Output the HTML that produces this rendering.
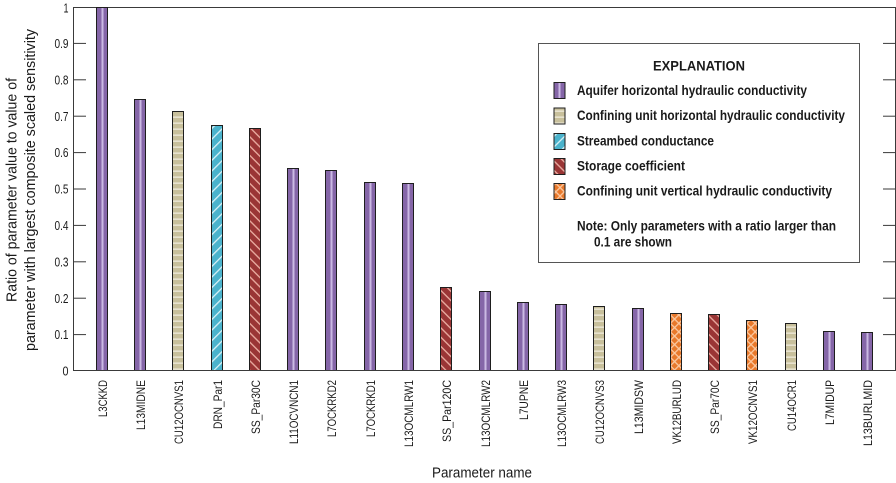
<!DOCTYPE html>
<html>
<head>
<meta charset="utf-8">
<style>
  html,body{margin:0;padding:0;background:#fff;}
  svg{display:block;}
  text{font-family:"Liberation Sans Narrow","Liberation Sans",sans-serif;fill:#1a1a1a;}
</style>
</head>
<body>
<svg width="896" height="483" viewBox="0 0 896 483" xmlns="http://www.w3.org/2000/svg">
  <defs>
    <pattern id="tan" patternUnits="userSpaceOnUse" width="12" height="6">
      <rect width="12" height="6" fill="#c8c09c"/>
      <rect y="2.5" width="12" height="1.3" fill="#efebdc"/>
    </pattern>
    <pattern id="blue" patternUnits="userSpaceOnUse" width="7.5" height="20" patternTransform="rotate(45)">
      <rect width="7.5" height="20" fill="#4bb3cc"/>
      <rect x="0" width="1.3" height="20" fill="#d9f1f6"/>
    </pattern>
    <pattern id="red" patternUnits="userSpaceOnUse" width="6.6" height="20" patternTransform="rotate(-45)">
      <rect width="6.6" height="20" fill="#9a3535"/>
      <rect x="0" width="1.4" height="20" fill="#e7a79c"/>
    </pattern>
    <pattern id="orange" patternUnits="userSpaceOnUse" width="6" height="6" patternTransform="rotate(45)">
      <rect width="6" height="6" fill="#e8782a"/>
      <rect x="0" width="1.3" height="6" fill="#fbc8a0"/>
      <rect y="0" width="6" height="1.3" fill="#fbc8a0"/>
    </pattern>
  </defs>

  <!-- plot frame -->
  <g stroke="#3a3a3a" stroke-width="1" fill="none">
    <line x1="73.5" y1="7.5" x2="895.5" y2="7.5"/>
    <line x1="73.5" y1="7" x2="73.5" y2="371"/>
    <line x1="895.5" y1="7" x2="895.5" y2="371"/>
  </g>

  <!-- ticks -->
  <g stroke="#3a3a3a" stroke-width="1">
    <line x1="74" y1="43.4" x2="86" y2="43.4"/><line x1="883" y1="43.4" x2="895" y2="43.4"/>
    <line x1="74" y1="79.8" x2="86" y2="79.8"/><line x1="883" y1="79.8" x2="895" y2="79.8"/>
    <line x1="74" y1="116.2" x2="86" y2="116.2"/><line x1="883" y1="116.2" x2="895" y2="116.2"/>
    <line x1="74" y1="152.6" x2="86" y2="152.6"/><line x1="883" y1="152.6" x2="895" y2="152.6"/>
    <line x1="74" y1="189" x2="86" y2="189"/><line x1="883" y1="189" x2="895" y2="189"/>
    <line x1="74" y1="225.4" x2="86" y2="225.4"/><line x1="883" y1="225.4" x2="895" y2="225.4"/>
    <line x1="74" y1="261.8" x2="86" y2="261.8"/><line x1="883" y1="261.8" x2="895" y2="261.8"/>
    <line x1="74" y1="298.2" x2="86" y2="298.2"/><line x1="883" y1="298.2" x2="895" y2="298.2"/>
    <line x1="74" y1="334.6" x2="86" y2="334.6"/><line x1="883" y1="334.6" x2="895" y2="334.6"/>
  </g>

  <!-- y tick labels -->
  <g font-size="13" text-anchor="end">
    <text x="68.5" y="12.5" textLength="5" lengthAdjust="spacingAndGlyphs">1</text>
    <text x="68.5" y="48" textLength="14" lengthAdjust="spacingAndGlyphs">0.9</text>
    <text x="68.5" y="84.4" textLength="14" lengthAdjust="spacingAndGlyphs">0.8</text>
    <text x="68.5" y="120.8" textLength="14" lengthAdjust="spacingAndGlyphs">0.7</text>
    <text x="68.5" y="157.2" textLength="14" lengthAdjust="spacingAndGlyphs">0.6</text>
    <text x="68.5" y="193.6" textLength="14" lengthAdjust="spacingAndGlyphs">0.5</text>
    <text x="68.5" y="230" textLength="14" lengthAdjust="spacingAndGlyphs">0.4</text>
    <text x="68.5" y="266.4" textLength="14" lengthAdjust="spacingAndGlyphs">0.3</text>
    <text x="68.5" y="302.8" textLength="14" lengthAdjust="spacingAndGlyphs">0.2</text>
    <text x="68.5" y="339.2" textLength="14" lengthAdjust="spacingAndGlyphs">0.1</text>
    <text x="68.5" y="375.6" textLength="6" lengthAdjust="spacingAndGlyphs">0</text>
  </g>

  <!-- y axis title -->
  <g font-size="15" text-anchor="middle">
    <text transform="translate(16.5,190) rotate(-90)" textLength="224" lengthAdjust="spacingAndGlyphs">Ratio of parameter value to value of</text>
    <text transform="translate(35,190) rotate(-90)" textLength="322" lengthAdjust="spacingAndGlyphs">parameter with largest composite scaled sensitivity</text>
  </g>

  <!-- bars -->
  <g stroke="#1e1e1e" stroke-width="1">
    <rect x="96.5" y="7.5" width="11" height="363" fill="#8566a8"/>
    <rect x="134.5" y="99.5" width="11" height="271" fill="#8566a8"/>
    <rect x="172.5" y="111.5" width="11" height="259" fill="url(#tan)"/>
    <rect x="211.5" y="125.5" width="11" height="245" fill="url(#blue)"/>
    <rect x="249.5" y="128.5" width="11" height="242" fill="url(#red)"/>
    <rect x="287.5" y="168.5" width="11" height="202" fill="#8566a8"/>
    <rect x="325.5" y="170.5" width="11" height="200" fill="#8566a8"/>
    <rect x="364.5" y="182.5" width="11" height="188" fill="#8566a8"/>
    <rect x="402.5" y="183.5" width="11" height="187" fill="#8566a8"/>
    <rect x="440.5" y="287.5" width="11" height="83" fill="url(#red)"/>
    <rect x="479.5" y="291.5" width="11" height="79" fill="#8566a8"/>
    <rect x="517.5" y="302.5" width="11" height="68" fill="#8566a8"/>
    <rect x="555.5" y="304.5" width="11" height="66" fill="#8566a8"/>
    <rect x="593.5" y="306.5" width="11" height="64" fill="url(#tan)"/>
    <rect x="632.5" y="308.5" width="11" height="62" fill="#8566a8"/>
    <rect x="670.5" y="313.5" width="11" height="57" fill="url(#orange)"/>
    <rect x="708.5" y="314.5" width="11" height="56" fill="url(#red)"/>
    <rect x="746.5" y="320.5" width="11" height="50" fill="url(#orange)"/>
    <rect x="785.5" y="323.5" width="11" height="47" fill="url(#tan)"/>
    <rect x="823.5" y="331.5" width="11" height="39" fill="#8566a8"/>
    <rect x="861.5" y="332.5" width="11" height="38" fill="#8566a8"/>
  </g>
  <!-- purple stripes -->
  <g fill="#cbb9e3">
    <rect x="101.5" y="8" width="2" height="362"/>
    <rect x="139.5" y="100" width="2" height="270"/>
    <rect x="292.5" y="169" width="2" height="201"/>
    <rect x="330.5" y="171" width="2" height="199"/>
    <rect x="369.5" y="183" width="2" height="187"/>
    <rect x="407.5" y="184" width="2" height="186"/>
    <rect x="484.5" y="292" width="2" height="78"/>
    <rect x="522.5" y="303" width="2" height="67"/>
    <rect x="560.5" y="305" width="2" height="65"/>
    <rect x="637.5" y="309" width="2" height="61"/>
    <rect x="828.5" y="332" width="2" height="38"/>
    <rect x="866.5" y="333" width="2" height="37"/>
  </g>

  <!-- bottom axis -->
  <line x1="73" y1="370.5" x2="896" y2="370.5" stroke="#3a3a3a" stroke-width="1"/>

  <!-- x labels -->
  <g font-size="11.5" text-anchor="end">
    <text transform="translate(107,380) rotate(-90)" textLength="37" lengthAdjust="spacingAndGlyphs">L3CKKD</text>
    <text transform="translate(145,380) rotate(-90)" textLength="50" lengthAdjust="spacingAndGlyphs">L13MIDNE</text>
    <text transform="translate(183,380) rotate(-90)" textLength="64" lengthAdjust="spacingAndGlyphs">CU12OCNVS1</text>
    <text transform="translate(222,380) rotate(-90)" textLength="49" lengthAdjust="spacingAndGlyphs">DRN_Par1</text>
    <text transform="translate(260,380) rotate(-90)" textLength="54" lengthAdjust="spacingAndGlyphs">SS_Par30C</text>
    <text transform="translate(298,380) rotate(-90)" textLength="64" lengthAdjust="spacingAndGlyphs">L11OCVNCN1</text>
    <text transform="translate(336,380) rotate(-90)" textLength="57" lengthAdjust="spacingAndGlyphs">L7OCKRKD2</text>
    <text transform="translate(375,380) rotate(-90)" textLength="57" lengthAdjust="spacingAndGlyphs">L7OCKRKD1</text>
    <text transform="translate(413,380) rotate(-90)" textLength="67" lengthAdjust="spacingAndGlyphs">L13OCMLRW1</text>
    <text transform="translate(451,380) rotate(-90)" textLength="62" lengthAdjust="spacingAndGlyphs">SS_Par120C</text>
    <text transform="translate(490,380) rotate(-90)" textLength="67" lengthAdjust="spacingAndGlyphs">L13OCMLRW2</text>
    <text transform="translate(528,380) rotate(-90)" textLength="40" lengthAdjust="spacingAndGlyphs">L7UPNE</text>
    <text transform="translate(566,380) rotate(-90)" textLength="67" lengthAdjust="spacingAndGlyphs">L13OCMLRW3</text>
    <text transform="translate(604,380) rotate(-90)" textLength="64" lengthAdjust="spacingAndGlyphs">CU12OCNVS3</text>
    <text transform="translate(643,380) rotate(-90)" textLength="54" lengthAdjust="spacingAndGlyphs">L13MIDSW</text>
    <text transform="translate(681,380) rotate(-90)" textLength="64" lengthAdjust="spacingAndGlyphs">VK12BURLUD</text>
    <text transform="translate(719,380) rotate(-90)" textLength="54" lengthAdjust="spacingAndGlyphs">SS_Par70C</text>
    <text transform="translate(757,380) rotate(-90)" textLength="64" lengthAdjust="spacingAndGlyphs">VK12OCNVS1</text>
    <text transform="translate(796,380) rotate(-90)" textLength="51" lengthAdjust="spacingAndGlyphs">CU14OCR1</text>
    <text transform="translate(834,380) rotate(-90)" textLength="45" lengthAdjust="spacingAndGlyphs">L7MIDUP</text>
    <text transform="translate(872,380) rotate(-90)" textLength="66" lengthAdjust="spacingAndGlyphs">L13BURLMID</text>
  </g>

  <!-- x axis title -->
  <text x="432" y="477.5" font-size="14.5" textLength="100" lengthAdjust="spacingAndGlyphs">Parameter name</text>

  <!-- legend -->
  <rect x="538.5" y="43.5" width="321" height="219" fill="#fff" stroke="#555" stroke-width="1"/>
  <text x="653" y="70.7" font-size="14" font-weight="bold" textLength="92" lengthAdjust="spacingAndGlyphs">EXPLANATION</text>

  <g stroke="#1e1e1e" stroke-width="1">
    <rect x="554" y="82.5" width="11" height="16" fill="#8566a8"/>
    <rect x="554" y="108" width="11" height="16" fill="url(#tan)"/>
    <rect x="554" y="133.5" width="11" height="16" fill="url(#blue)"/>
    <rect x="554" y="158.5" width="11" height="16" fill="url(#red)"/>
    <rect x="554" y="183.5" width="11" height="16" fill="url(#orange)"/>
  </g>
  <rect x="558.5" y="83" width="2" height="15" fill="#cbb9e3"/>

  <g font-size="14" font-weight="bold">
    <text x="577" y="95" textLength="230" lengthAdjust="spacingAndGlyphs">Aquifer horizontal hydraulic conductivity</text>
    <text x="577" y="120.2" textLength="268" lengthAdjust="spacingAndGlyphs">Confining unit horizontal hydraulic conductivity</text>
    <text x="577" y="145.6" textLength="137" lengthAdjust="spacingAndGlyphs">Streambed conductance</text>
    <text x="577" y="170.6" textLength="108" lengthAdjust="spacingAndGlyphs">Storage coefficient</text>
    <text x="577" y="195.6" textLength="255" lengthAdjust="spacingAndGlyphs">Confining unit vertical hydraulic conductivity</text>
    <text x="577" y="230.7" textLength="259" lengthAdjust="spacingAndGlyphs">Note: Only parameters with a ratio larger than</text>
    <text x="594" y="246.7" textLength="78" lengthAdjust="spacingAndGlyphs">0.1 are shown</text>
  </g>
</svg>
</body>
</html>
